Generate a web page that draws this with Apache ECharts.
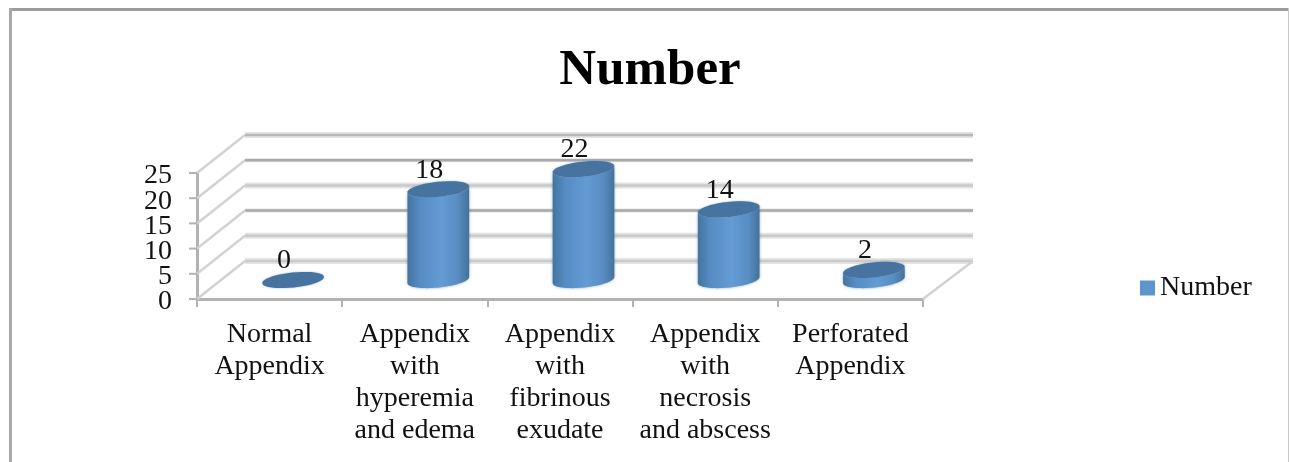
<!DOCTYPE html>
<html>
<head>
<meta charset="utf-8">
<title>Number</title>
<style>
  html, body { margin: 0; padding: 0; background: #fff; }
  #chart { width: 1289px; height: 462px; filter: blur(0.4px); }
</style>
<script src="https://cdn.jsdelivr.net/npm/echarts@6/dist/echarts.min.js"></script>
</head>
<body>
<div id="chart"></div>
<script>
var categories = [
  'Normal\nAppendix',
  'Appendix\nwith\nhyperemia\nand edema',
  'Appendix\nwith\nfibrinous\nexudate',
  'Appendix\nwith\nnecrosis\nand abscess',
  'Perforated\nAppendix'
];
var values = [0, 18, 22, 14, 2];
var yTicks = [0, 5, 10, 15, 20, 25];

var font = '"Liberation Serif", serif';
var grey = '#b2b2b2';

// 3d look: offsets from the front plane (the grid) to the back wall
var backX = 48, backY = -38;
var midX = 23.5, midY = -19;
var rx = 31, ry = 7.5, tilt = -6 * Math.PI / 180;

// point on a tilted ellipse
function ell(cx, cy, a) {
  var ex = rx * Math.cos(a), ey = ry * Math.sin(a);
  return [
    cx + ex * Math.cos(tilt) - ey * Math.sin(tilt),
    cy + ex * Math.sin(tilt) + ey * Math.cos(tilt)
  ];
}

function ring(cx, cy, from, to) {
  var pts = [];
  for (var k = 0; k <= 40; k++) {
    pts.push(ell(cx, cy, from + (to - from) * k / 40));
  }
  return pts;
}

function renderWall(params, api) {
  var box = params.coordSys;
  var tick = api.value(0);
  var y = api.coord([0, tick])[1];
  var left = box.x, right = box.x + box.width;
  var idx = params.dataIndex;
  var dark = idx === 2 || idx === 4;
  var pts = [[left, y], [left + backX, y + backY], [right + backX + 2, y + backY]];
  var kids = [{
    type: 'polyline',
    shape: { points: [pts[1], pts[2]] },
    style: { fill: null, stroke: '#e4e4e4', lineWidth: dark ? 4 : 6 }
  }, {
    type: 'polyline',
    shape: { points: [pts[1], pts[2]] },
    style: { fill: null, stroke: dark ? '#a9a9a9' : (idx === 5 ? '#b8b8b8' : '#cacaca'), lineWidth: 2.5 }
  }, {
    type: 'polyline',
    shape: { points: [pts[0], pts[1]] },
    style: { fill: null, stroke: '#d2d2d2', lineWidth: 2.5 }
  }, {
    // tick on the value axis
    type: 'line',
    shape: { x1: left - 8, y1: y, x2: left, y2: y },
    style: { stroke: grey, lineWidth: 2 }
  }, {
    // the axis drops labels this tightly packed, so they are set here
    type: 'text',
    style: {
      text: String(tick),
      x: left - 25,
      y: y + 3,
      fill: '#111',
      font: '28px ' + font,
      textAlign: 'right',
      textVerticalAlign: 'middle'
    }
  }];
  if (idx === 0) {
    // floor edge on the right
    kids.push({
      type: 'polyline',
      shape: { points: [[right, y], [right + backX + 2, y + backY]] },
      style: { fill: null, stroke: '#d2d2d2', lineWidth: 2.5 }
    });
  }
  return { type: 'group', children: kids };
}

function renderCylinder(params, api) {
  var v = api.value(1);
  var top = api.coord([api.value(0), v]);
  var base = api.coord([api.value(0), 0]);
  var cx = top[0] + midX;
  var topY = top[1] + midY, baseY = base[1] + midY;
  var kids = [];
  if (v > 0) {
    var body = ring(cx, topY, Math.PI, 0).concat(ring(cx, baseY, 0, Math.PI));
    kids.push({
      type: 'polygon',
      shape: { points: body },
      style: {
        fill: new echarts.graphic.LinearGradient(0, 0, 1, 0, [
          { offset: 0, color: '#44749f' },
          { offset: 0.2, color: '#568cc3' },
          { offset: 0.55, color: '#639bd4' },
          { offset: 0.82, color: '#588dc3' },
          { offset: 1, color: '#447199' }
        ]),
        shadowBlur: 3,
        shadowColor: 'rgba(90,130,175,0.7)'
      }
    });
  }
  kids.push({
    type: 'polygon',
    shape: { points: ring(cx, topY, 0, Math.PI * 2) },
    style: { fill: '#46739f', shadowBlur: 2, shadowColor: 'rgba(90,140,190,0.7)' }
  });
  kids.push({
    type: 'text',
    style: {
      text: String(v),
      x: cx - 9,
      y: topY - 19,
      fill: '#111',
      font: '28px ' + font,
      textAlign: 'center',
      textVerticalAlign: 'middle'
    }
  });
  return { type: 'group', children: kids };
}

var chart = echarts.init(document.getElementById('chart'));
chart.setOption({
  animation: false,
  title: {
    text: 'Number',
    left: 645,
    top: 40,
    textAlign: 'center',
    textStyle: { fontFamily: font, fontSize: 51, fontWeight: 'bold', color: '#000' }
  },
  legend: {
    data: ['Number'],
    left: 1135,
    top: 269,
    icon: 'rect',
    itemWidth: 15,
    itemHeight: 15,
    itemGap: 6,
    textStyle: { fontFamily: font, fontSize: 28, color: '#111' }
  },
  grid: { left: 197, top: 173, width: 726, height: 126, containLabel: false },
  xAxis: {
    type: 'category',
    data: categories,
    axisLine: { lineStyle: { color: grey, width: 3 } },
    axisTick: { show: true, length: 8, lineStyle: { color: grey, width: 2 } },
    axisLabel: {
      interval: 0,
      margin: 20,
      fontFamily: font,
      fontSize: 28,
      lineHeight: 32,
      color: '#111'
    }
  },
  yAxis: {
    type: 'value',
    min: 0,
    max: 25,
    interval: 5,
    splitLine: { show: false },
    axisLine: { show: true, lineStyle: { color: grey, width: 3 } },
    axisTick: { show: false },
    axisLabel: { show: false }
  },
  series: [{
    type: 'custom',
    name: 'walls',
    z: 1,
    renderItem: renderWall,
    data: yTicks.map(function (t) { return [t]; }),
    encode: { y: 0 },
    silent: true
  }, {
    type: 'custom',
    name: 'Number',
    z: 5,
    renderItem: renderCylinder,
    itemStyle: { color: '#5f95cd' },
    data: values.map(function (v, i) { return [i, v]; }),
    encode: { x: 0, y: 1 }
  }],
  graphic: [
    { type: 'rect', shape: { x: 9, y: 8, width: 1279, height: 3 }, style: { fill: '#9c9c9c' } },
    { type: 'rect', shape: { x: 9, y: 8, width: 3, height: 454 }, style: { fill: '#a8a8a8' } },
    { type: 'rect', shape: { x: 1288, y: 8, width: 1, height: 454 }, style: { fill: '#c8c8c8' } }
  ]
});
</script>
</body>
</html>
